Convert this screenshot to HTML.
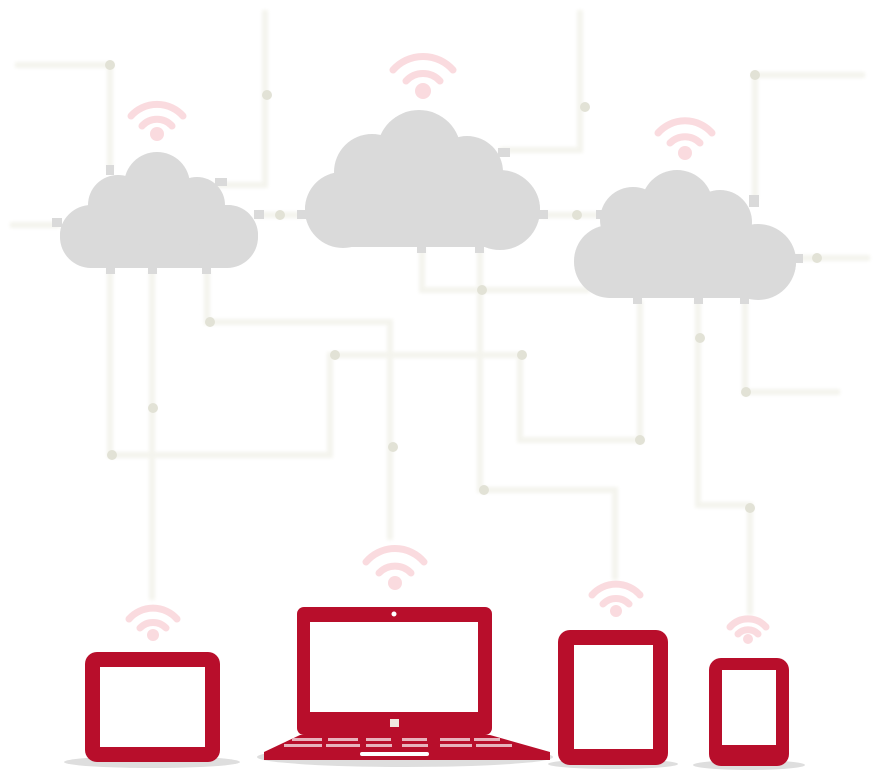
<!DOCTYPE html>
<html><head><meta charset="utf-8"><style>html,body{margin:0;padding:0;background:#fff}svg{display:block}</style></head>
<body>
<svg width="883" height="770" viewBox="0 0 883 770" xmlns="http://www.w3.org/2000/svg">
<defs><filter id="b"><feGaussianBlur stdDeviation="1.5"/></filter></defs>
<g fill="none" stroke="#f4f4ee" stroke-width="6" filter="url(#b)">
<path d="M15 65H110V170"/>
<path d="M265 10V185H215"/>
<path d="M10 225H60"/>
<path d="M255 215H305"/>
<path d="M580 10V150H500"/>
<path d="M540 215H600"/>
<path d="M865 75H755V200"/>
<path d="M795 258H870"/>
<path d="M110 270V455H330V355H520V440H640V300"/>
<path d="M152 270V600"/>
<path d="M207 270V322H390V540"/>
<path d="M422 248V290H590"/>
<path d="M480 248V490H615V580"/>
<path d="M698 300V505H750V615"/>
<path d="M745 300V392H840"/>
</g>
<g fill="#e2e2d6">
<circle cx="110" cy="65" r="5"/><circle cx="267" cy="95" r="5"/><circle cx="280" cy="215" r="5"/>
<circle cx="585" cy="107" r="5"/><circle cx="577" cy="215" r="5"/><circle cx="755" cy="75" r="5"/>
<circle cx="817" cy="258" r="5"/><circle cx="210" cy="322" r="5"/><circle cx="153" cy="408" r="5"/>
<circle cx="112" cy="455" r="5"/><circle cx="335" cy="355" r="5"/><circle cx="522" cy="355" r="5"/>
<circle cx="393" cy="447" r="5"/><circle cx="482" cy="290" r="5"/><circle cx="484" cy="490" r="5"/>
<circle cx="640" cy="440" r="5"/><circle cx="700" cy="338" r="5"/><circle cx="746" cy="392" r="5"/>
<circle cx="750" cy="508" r="5"/>
</g>
<g fill="#dadada">
<rect x="60" y="205" width="198" height="63" rx="31"/>
<circle cx="118" cy="205" r="30"/><circle cx="157" cy="185" r="33"/><circle cx="197" cy="205" r="28"/>
<circle cx="88" cy="235" r="28"/><circle cx="228" cy="235" r="30"/>
<rect x="106" y="165" width="8" height="10"/><rect x="215" y="178" width="12" height="8"/>
<rect x="52" y="218" width="10" height="9"/><rect x="254" y="210" width="10" height="9"/>
<rect x="106" y="265" width="9" height="9"/><rect x="148" y="265" width="9" height="9"/><rect x="202" y="265" width="9" height="9"/>
<rect x="305" y="172" width="235" height="75" rx="37"/>
<circle cx="372" cy="172" r="38"/><circle cx="419" cy="152" r="42"/><circle cx="467" cy="172" r="36"/>
<circle cx="343" cy="210" r="38"/><circle cx="500" cy="210" r="40"/>
<rect x="498" y="148" width="12" height="9"/><rect x="297" y="210" width="10" height="9"/><rect x="538" y="210" width="10" height="9"/>
<rect x="417" y="245" width="9" height="8"/><rect x="475" y="245" width="9" height="8"/>
<rect x="574" y="225" width="222" height="73" rx="36"/>
<circle cx="633" cy="220" r="33"/><circle cx="677" cy="206" r="36"/><circle cx="720" cy="222" r="32"/>
<circle cx="612" cy="262" r="36"/><circle cx="758" cy="262" r="38"/>
<rect x="749" y="195" width="10" height="12"/><rect x="596" y="210" width="10" height="9"/><rect x="793" y="254" width="10" height="9"/>
<rect x="633" y="296" width="9" height="8"/><rect x="694" y="296" width="9" height="8"/><rect x="740" y="296" width="9" height="8"/>
</g>
<g fill="none" stroke="#fadbdf" stroke-width="7" stroke-linecap="round">
<g transform="translate(157,135)"><path d="M-26 -19A35 35 0 0 1 26 -19"/><path d="M-15 -9A20 20 0 0 1 15 -9"/></g>
<g transform="translate(423,92)"><path d="M-30 -22A40 40 0 0 1 30 -22"/><path d="M-17 -11A23 23 0 0 1 17 -11"/></g>
<g transform="translate(685,153)"><path d="M-27 -20A36 36 0 0 1 27 -20"/><path d="M-15 -10A21 21 0 0 1 15 -10"/></g>
<g transform="translate(153,636)"><path d="M-24 -17A32 32 0 0 1 24 -17"/><path d="M-13 -8A18 18 0 0 1 13 -8"/></g>
<g transform="translate(395,583)"><path d="M-29 -21A38 38 0 0 1 29 -21"/><path d="M-16 -10A22 22 0 0 1 16 -10"/></g>
<g transform="translate(616,612)"><path d="M-24 -17A32 32 0 0 1 24 -17"/><path d="M-13 -8A18 18 0 0 1 13 -8"/></g>
<g transform="translate(748,640)"><path d="M-18 -13A24 24 0 0 1 18 -13"/><path d="M-10 -6A14 14 0 0 1 10 -6"/></g>
</g>
<g fill="#fadbdf">
<circle cx="157" cy="134" r="7"/><circle cx="423" cy="91" r="8"/><circle cx="685" cy="153" r="7"/>
<circle cx="153" cy="635" r="6"/><circle cx="395" cy="583" r="7"/><circle cx="616" cy="611" r="6"/><circle cx="748" cy="639" r="5"/>
</g>
<g fill="#dedede">
<ellipse cx="152" cy="762" rx="88" ry="6"/><ellipse cx="405" cy="757" rx="148" ry="10"/>
<ellipse cx="613" cy="764" rx="65" ry="5"/><ellipse cx="749" cy="765" rx="56" ry="5"/>
</g>
<g fill="#b80e2b">
<rect x="85" y="652" width="135" height="110" rx="12"/>
<rect x="297" y="607" width="195" height="128" rx="7"/>
<path d="M300 735H490L550 752V760H264V752Z"/>
<rect x="558" y="630" width="110" height="135" rx="12"/>
<rect x="709" y="658" width="80" height="108" rx="12"/>
</g>
<g fill="#fff">
<rect x="100" y="667" width="105" height="80"/>
<rect x="310" y="622" width="168" height="90"/>
<circle cx="394" cy="614" r="2.5"/>
<rect x="574" y="645" width="79" height="104"/>
<rect x="722" y="670" width="54" height="75"/>
<rect x="360" y="752" width="69" height="4" rx="2"/>
</g>
<rect x="390" y="719" width="9" height="8" fill="#efe9e0"/>
<g fill="#e8b3bd">
<rect x="292" y="738" width="30" height="3"/><rect x="328" y="738" width="30" height="3"/><rect x="366" y="738" width="25" height="3"/><rect x="402" y="738" width="25" height="3"/><rect x="440" y="738" width="30" height="3"/><rect x="474" y="738" width="26" height="3"/>
<rect x="284" y="744" width="38" height="3"/><rect x="326" y="744" width="34" height="3"/><rect x="366" y="744" width="26" height="3"/><rect x="402" y="744" width="26" height="3"/><rect x="440" y="744" width="32" height="3"/><rect x="476" y="744" width="36" height="3"/>
</g>
</svg>
</body></html>
